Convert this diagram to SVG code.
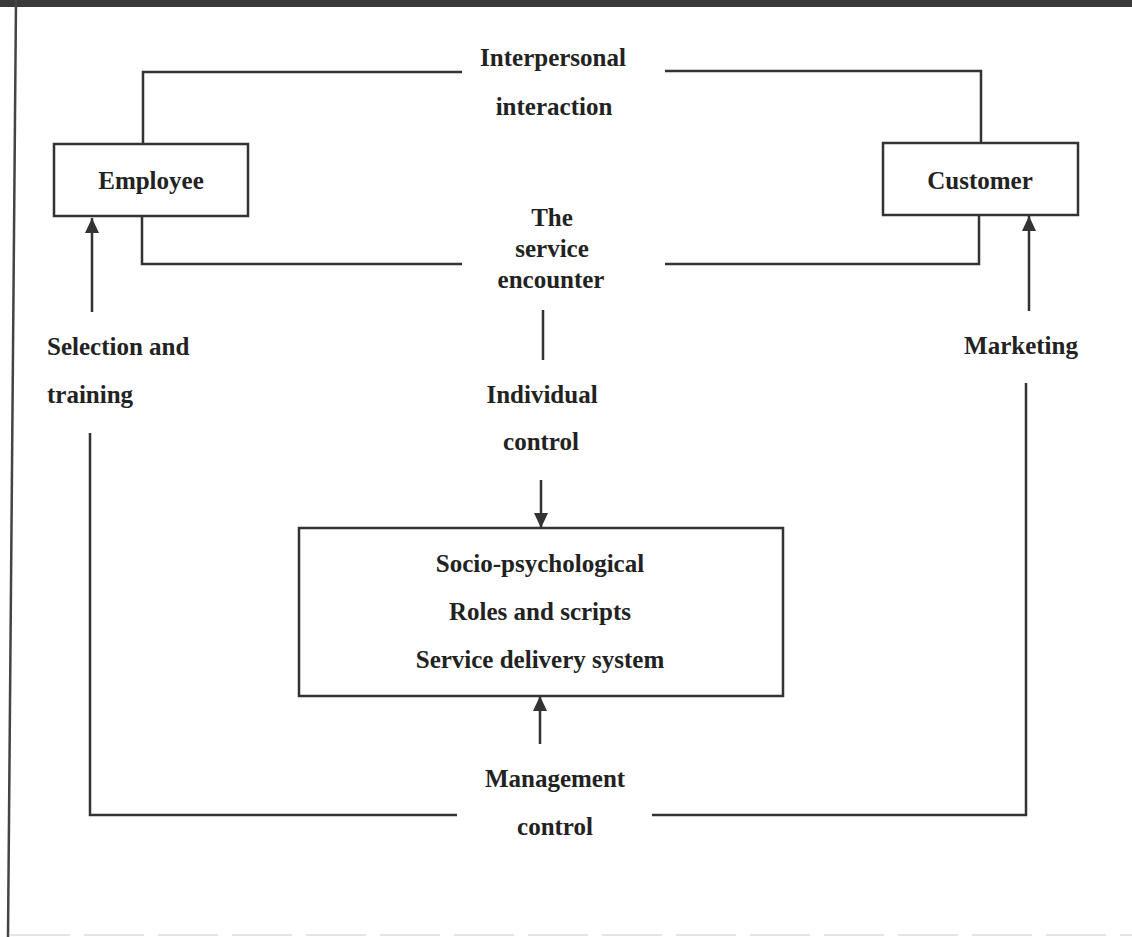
<svg xmlns="http://www.w3.org/2000/svg" width="1132" height="937" viewBox="0 0 1132 937">
  <style>
    .ln { fill: none; stroke: #333; stroke-width: 2.5; }
    .box { fill: #fff; stroke: #333; stroke-width: 2.5; }
    .t { font-family: "Liberation Serif", "Times New Roman", serif; font-size: 25px; font-weight: bold; fill: #222; text-anchor: middle; }
    .tl { text-anchor: start; }
  </style>
  <defs>
    <marker id="arrow" markerUnits="userSpaceOnUse" markerWidth="16" markerHeight="16" viewBox="0 0 16 16" refX="15" refY="8" orient="auto">
      <path d="M0,1 L15,8 L0,15 Z" fill="#333"/>
    </marker>
  </defs>

  <!-- page frame -->
  <rect x="0" y="0" width="1132" height="937" fill="#fff"/>
  <rect x="0" y="0" width="1132" height="7" fill="#3a3a3a"/>
  <line x1="16" y1="0" x2="8" y2="937" stroke="#444" stroke-width="2.5"/>
  <line x1="10" y1="935" x2="1132" y2="935" stroke="#ddd" stroke-width="1.5" stroke-dasharray="60 14"/>

  <!-- connectors -->
  <g id="connectors">
    <!-- interpersonal interaction loop -->
    <polyline class="ln" points="143,144 143,72 462,72"/>
    <polyline class="ln" points="665,71 981,71 981,143"/>
    <!-- service encounter loop -->
    <polyline class="ln" points="142,216 142,264 462,264"/>
    <polyline class="ln" points="665,264 979,264 979,215"/>
    <!-- selection and training -->
    <line class="ln" x1="92" y1="312" x2="92" y2="218" marker-end="url(#arrow)"/>
    <!-- marketing -->
    <line class="ln" x1="1029" y1="311" x2="1029" y2="216" marker-end="url(#arrow)"/>
    <!-- encounter to individual control -->
    <line class="ln" x1="543" y1="310" x2="543" y2="360"/>
    <!-- individual control to centre box -->
    <line class="ln" x1="541" y1="480" x2="541" y2="528" marker-end="url(#arrow)"/>
    <!-- management control to centre box -->
    <line class="ln" x1="540" y1="744" x2="540" y2="696" marker-end="url(#arrow)"/>
    <!-- management control loop -->
    <polyline class="ln" points="90,433 90,815 457,815"/>
    <polyline class="ln" points="652,815 1026,815 1026,383"/>
  </g>

  <g id="employee">
    <rect class="box" x="54" y="144" width="194" height="72"/>
    <text class="t" x="151" y="189">Employee</text>
  </g>

  <g id="customer">
    <rect class="box" x="883" y="143" width="195" height="72"/>
    <text class="t" x="980" y="189">Customer</text>
  </g>

  <g id="interpersonal">
    <text class="t" x="553" y="66">Interpersonal</text>
    <text class="t" x="554" y="115">interaction</text>
  </g>

  <g id="encounter">
    <text class="t" x="552" y="226">The</text>
    <text class="t" x="552" y="257">service</text>
    <text class="t" x="551" y="288">encounter</text>
  </g>

  <g id="selection">
    <text class="t tl" x="47" y="355">Selection and</text>
    <text class="t tl" x="47" y="403">training</text>
  </g>

  <g id="marketing">
    <text class="t" x="1021" y="354">Marketing</text>
  </g>

  <g id="individual">
    <text class="t" x="542" y="403">Individual</text>
    <text class="t" x="541" y="450">control</text>
  </g>

  <g id="delivery">
    <rect class="box" x="299" y="528" width="484" height="168"/>
    <text class="t" x="540" y="572">Socio-psychological</text>
    <text class="t" x="540" y="620">Roles and scripts</text>
    <text class="t" x="540" y="668">Service delivery system</text>
  </g>

  <g id="management">
    <text class="t" x="555" y="787">Management</text>
    <text class="t" x="555" y="835">control</text>
  </g>
</svg>
